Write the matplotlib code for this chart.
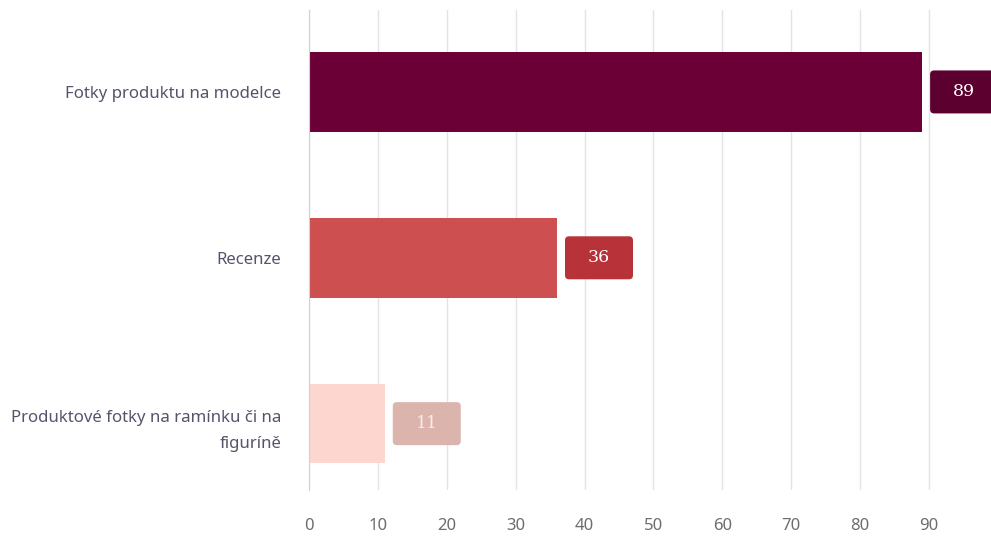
import matplotlib
matplotlib.use('Agg')
import matplotlib.pyplot as plt
import matplotlib.transforms as mtransforms
from matplotlib.patches import FancyBboxPatch

categories = ['Fotky produktu na modelce', 'Recenze',
              'Produktové fotky na ramínku či na\nfiguríně']
values = [89, 36, 11]
tick_values = [0, 10, 20, 30, 40, 50, 60, 70, 80, 90]

bar_colors = ['#6a0036', '#cd4f4f', '#fdd6d0']
box_colors = ['#5b002f', '#b8323a', '#dbb4ad']
box_text_colors = ['#ffffff', '#ffffff', '#fbeae6']

plt.rcParams['font.family'] = ['Noto Sans', 'DejaVu Sans']

fig = plt.figure(figsize=(9.91, 5.4), dpi=100)
ax = fig.add_axes([0.3118, 0.0926, 0.6882, 0.8889])

y = list(range(len(values)))
bars = ax.barh(y, values, height=0.48, color=bar_colors, zorder=3)

ax.set_xlim(0, 99)
ax.set_ylim(2.40, -0.494)
ax.set_xticks(tick_values)
ax.set_xticklabels([str(t) for t in tick_values], color='#6d6d6d', fontsize=12)
ax.set_yticks(y)
ax.set_yticklabels(categories, color='#55546b', fontsize=12.1, linespacing=1.85)
ax.tick_params(axis='both', length=0)
ax.tick_params(axis='x', pad=20)
ax.tick_params(axis='y', pad=20)

ax.grid(axis='x', color='#e4e4e8', linewidth=1, zorder=0)
for s in ['top', 'right', 'bottom']:
    ax.spines[s].set_visible(False)
ax.spines['left'].set_color('#c9d2e3')
ax.spines['left'].set_zorder(4)

# value boxes next to each bar
for i, v in enumerate(values):
    trans = fig.dpi_scale_trans + mtransforms.ScaledTranslation(v, i, ax.transData)
    box = FancyBboxPatch((0.08, -0.215), 0.68, 0.43,
                         boxstyle='round,pad=0,rounding_size=0.04',
                         transform=trans, facecolor=box_colors[i],
                         edgecolor='none', zorder=5, clip_on=False)
    ax.add_patch(box)
    ax.text(0.42, 0.0, str(v), transform=trans, ha='center', va='center',
            fontsize=12.5, color=box_text_colors[i], family='DejaVu Serif',
            zorder=6)

fig.savefig('out.png', dpi=100)
